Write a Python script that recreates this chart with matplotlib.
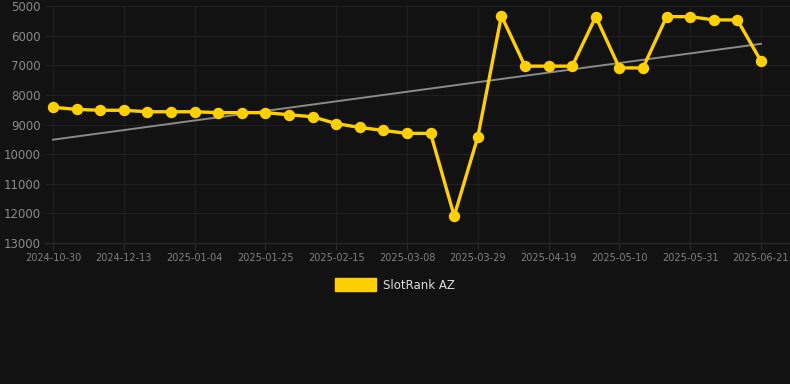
import matplotlib
matplotlib.use("Agg")
import matplotlib.pyplot as plt
import matplotlib.patches as mpatches
import numpy as np

# weekly rank values (lower rank = better, axis inverted)
ranks = [8420, 8490, 8520, 8520, 8570, 8570, 8570, 8600, 8600, 8600,
         8670, 8740, 8970, 9100, 9200, 9300, 9300, 12090, 9420, 5330,
         7030, 7030, 7030, 5360, 7090, 7090, 5360, 5360, 5470, 5470, 6860]
tick_labels = ['2024-10-30', '2024-12-13', '2025-01-04', '2025-01-25',
               '2025-02-15', '2025-03-08', '2025-03-29', '2025-04-19',
               '2025-05-10', '2025-05-31', '2025-06-21']
series_name = 'SlotRank AZ'

bg = '#121212'
gold = '#FFD000'

x = np.arange(len(ranks))
fig = plt.figure(figsize=(7.9, 3.84), dpi=100, facecolor=bg)
ax = fig.add_axes([45 / 790, 1 - 243 / 384, 1 - 45 / 790, (243 - 6) / 384])
ax.set_facecolor(bg)

# trend line
k, b = np.polyfit(x, ranks, 1)
ax.plot(x, k * x + b, color='#8a8a8a', lw=1.4, zorder=2)

ax.plot(x, ranks, color=gold, lw=2.4, marker='o', ms=7.2, zorder=3)

ax.set_ylim(13000, 5000)
ax.set_yticks(range(5000, 13001, 1000))
ax.set_xlim(-0.34, 31.23)
ax.set_xticks(x[::3])
ax.set_xticklabels(tick_labels)

ax.grid(True, color='#1f1f1f', lw=0.8)
for s in ['top', 'right', 'left']:
    ax.spines[s].set_visible(False)
ax.spines['bottom'].set_color('#2a2a2a')
ax.tick_params(axis='y', length=0, colors='#8a8a8a', labelsize=8.5, pad=3)
ax.tick_params(axis='x', length=5, color='#2a2a2a', colors='#808080', labelsize=7, pad=2)

handle = mpatches.Patch(color=gold, label=series_name)
fig.legend(handles=[handle], loc='center', bbox_to_anchor=(0.5, 1 - 285 / 384),
           frameon=False, labelcolor='#dddddd', fontsize=8.5,
           handlelength=3.4, handleheight=1.2, handletextpad=0.6)

fig.savefig('out.png', dpi=100, facecolor=bg)
